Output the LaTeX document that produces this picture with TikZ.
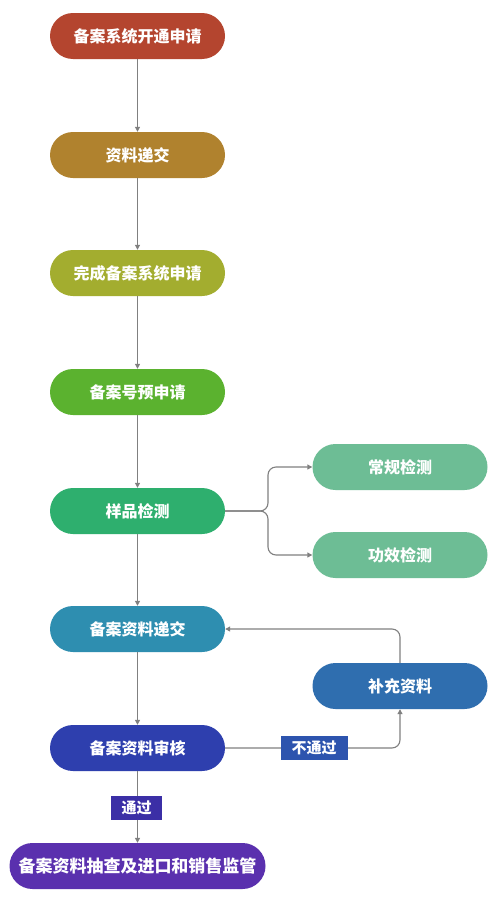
\documentclass[tikz,border=0pt]{standalone}
\usepackage{fontspec}
\newfontfamily\cjk{Noto Sans CJK SC}
\usetikzlibrary{arrows.meta}
\definecolor{cA}{HTML}{B4452F}
\definecolor{cB}{HTML}{B0822E}
\definecolor{cC}{HTML}{A3AD2F}
\definecolor{cD}{HTML}{5BB22F}
\definecolor{cE}{HTML}{2EAF6E}
\definecolor{cF}{HTML}{6DBD95}
\definecolor{cG}{HTML}{2E8EB0}
\definecolor{cH}{HTML}{2F6EAF}
\definecolor{cI}{HTML}{2E3FAE}
\definecolor{cJ}{HTML}{5A30AE}
\definecolor{cK}{HTML}{2D54AE}
\definecolor{cL}{HTML}{3B2FA6}
\definecolor{lineg}{HTML}{808080}
\begin{document}
\begin{tikzpicture}[x=1pt,y=-1pt,
  pill/.style={rectangle,rounded corners=23pt,minimum width=175pt,minimum height=46pt,inner sep=0pt,text=white,font=\cjk\bfseries\fontsize{16}{16}\selectfont},
  tag/.style={rectangle,inner sep=0pt,minimum height=24pt,text=white,font=\cjk\bfseries\fontsize{15}{15}\selectfont},
  conn/.style={draw=lineg,line width=1.1pt,-{Triangle[width=5pt,length=5pt]}}]
\useasboundingbox (0,0) rectangle (500,897);
\fill[white] (0,0) rectangle (500,897);
\node[pill,fill=cA] (n1) at (137.5,36) {备案系统开通申请};
\node[pill,fill=cB] (n2) at (137.5,155) {资料递交};
\node[pill,fill=cC] (n3) at (137.5,273) {完成备案系统申请};
\node[pill,fill=cD] (n4) at (137.5,392) {备案号预申请};
\node[pill,fill=cE] (n5) at (137.5,511) {样品检测};
\node[pill,fill=cF] (c1) at (400,467) {常规检测};
\node[pill,fill=cF] (c2) at (400,555) {功效检测};
\node[pill,fill=cG] (n6) at (137.5,629) {备案资料递交};
\node[pill,fill=cH] (bc) at (400,686) {补充资料};
\node[pill,fill=cI] (n7) at (137.5,748) {备案资料审核};
\node[pill,fill=cJ,minimum width=256pt,font=\cjk\bfseries\fontsize{17}{17}\selectfont] (n8) at (137.5,866) {备案资料抽查及进口和销售监管};
\coordinate (b1) at (268,511);
\coordinate (lp) at (400,629);
\coordinate (np) at (400,748);
\draw[conn] (n1) -- (n2);
\draw[conn] (n2) -- (n3);
\draw[conn] (n3) -- (n4);
\draw[conn] (n4) -- (n5);
\draw[conn] (n5) -- (n6);
\draw[conn] (n6) -- (n7);
\draw[conn,rounded corners=8pt] (n5.east) -- (b1) |- (c1.west);
\draw[conn,rounded corners=8pt] (n5.east) -- (b1) |- (c2.west);
\draw[conn,rounded corners=8pt] (bc.north) -- (lp) -- (n6.east);
\draw[conn,rounded corners=8pt] (n7.east) -- (np) -- (bc.south);
\draw[conn] (n7) -- (n8);
\node[tag,fill=cK,minimum width=67pt] (t1) at (314,748) {不通过};
\node[tag,fill=cL,minimum width=51pt] (t2) at (136.5,808) {通过};
\end{tikzpicture}
\end{document}
